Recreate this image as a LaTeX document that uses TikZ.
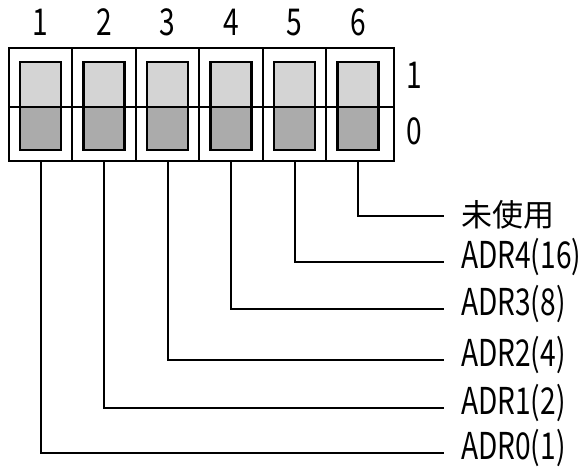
\documentclass[tikz,border=0pt]{standalone}
\usepackage{fontspec}
\newfontfamily\jpfont{Noto Sans CJK JP}
\newfontfamily\jplatin[FakeStretch=0.76]{Noto Sans CJK JP}

\begin{document}
\begin{tikzpicture}[
    x = 1pt, y = -1pt,
    line width = 2pt,
    font = \jplatin\fontsize{37}{37}\selectfont,
    knob/.style = {draw, line width=2.5pt, fill=black!17,
      minimum width=41pt, minimum height=88pt, inner sep=0pt,
      path picture={\fill[black!33] (path picture bounding box.west)
        rectangle (path picture bounding box.south east);}},
    num/.style  = {anchor=base, inner sep=0pt},
    adr/.style  = {anchor=west, inner xsep=16pt, inner ysep=0pt,
      text height=12.6pt, text depth=0pt},
    unusedlbl/.style = {adr, font=\jpfont\fontsize{31}{31}\selectfont,
      text height=20pt}
  ]
  \useasboundingbox (0,0) rectangle (583,469);

  % switch body
  \node [draw, minimum width=385pt, minimum height=113pt, inner sep=0pt]
    (box) at (201.5,104.5) {};
  \foreach \x in {72.25,135.75,199.25,262.75,326.25}
    \draw (\x,48) -- (\x,161);

  \node [knob] (sw1) at (40.5,106) {};
  \node [knob] (sw2) at (104,106) {};
  \node [knob] (sw3) at (167.5,106) {};
  \node [knob] (sw4) at (231,106) {};
  \node [knob] (sw5) at (294.5,106) {};
  \node [knob] (sw6) at (358,106) {};
  \draw ([yshift=-2.5pt]box.west) -- ([yshift=-2.5pt]box.east);

  % numbers
  \node [num] (n1) at (40.5,35) {1};
  \node [num] (n2) at (104,35) {2};
  \node [num] (n3) at (167.5,35) {3};
  \node [num] (n4) at (231,35) {4};
  \node [num] (n5) at (294.5,35) {5};
  \node [num] (n6) at (358,35) {6};
  \node [num] (on)  at (414,88) {1};
  \node [num] (off) at (414,144) {0};

  % bit labels
  \node [unusedlbl] (unused) at (444,216) {未使用};
  \node [adr] (adr4) at (444,262) {ADR4(16)};
  \node [adr] (adr3) at (444,309) {ADR3(8)};
  \node [adr] (adr2) at (444,360) {ADR2(4)};
  \node [adr] (adr1) at (444,408) {ADR1(2)};
  \node [adr] (adr0) at (444,453) {ADR0(1)};

  \draw (sw6 |- box.south) |- (unused.west);
  \draw (sw5 |- box.south) |- (adr4.west);
  \draw (sw4 |- box.south) |- (adr3.west);
  \draw (sw3 |- box.south) |- (adr2.west);
  \draw (sw2 |- box.south) |- (adr1.west);
  \draw (sw1 |- box.south) |- (adr0.west);
\end{tikzpicture}
\end{document}
